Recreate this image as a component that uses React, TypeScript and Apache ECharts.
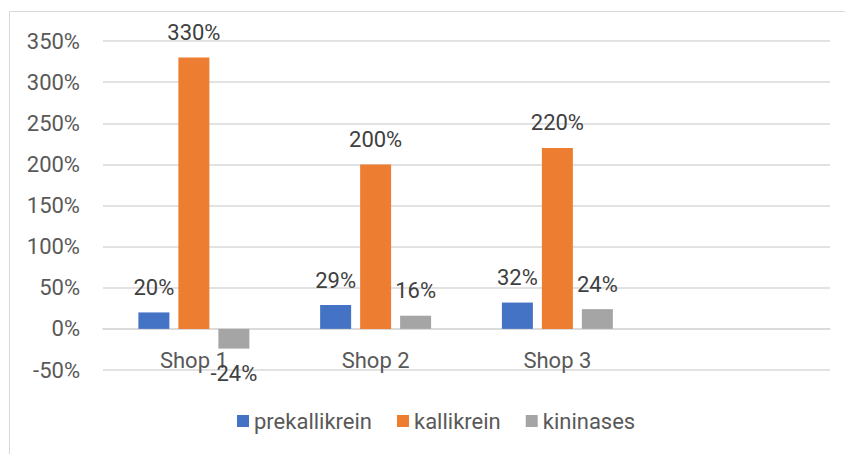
import React, { useEffect, useRef } from "react";
import * as echarts from "echarts";

const categories = ["Shop 1", "Shop 2", "Shop 3", ""];
const prekallikrein = [20, 29, 32, null];
const kallikrein = [330, 200, 220, null];
const kininases = [-24, 16, 24, null];
const seriesNames = ["prekallikrein", "kallikrein", "kininases"];
const colors = ["#4472C4", "#ED7D31", "#A5A5A5"];

const FONT = "Roboto";

function toData(arr: (number | null)[]) {
  return arr.map((v) =>
    v === null
      ? null
      : {
          value: v,
          label: { position: v < 0 ? "bottom" : "top" },
        }
  );
}

export default function App() {
  const ref = useRef<HTMLDivElement>(null);
  useEffect(() => {
    if (!ref.current) return;
    const chart = echarts.init(ref.current, null, { renderer: "svg" });
    const mk = (name: string, arr: (number | null)[], color: string) => ({
      name,
      type: "bar",
      data: toData(arr),
      barWidth: 31,
      barGap: "29%",
      itemStyle: { color },
      label: {
        show: true,
        formatter: "{c}%",
        distance: 14,
        fontFamily: FONT,
        fontSize: 22,
        color: "#404040",
      },
    });
    chart.setOption({
      animation: false,
      textStyle: { fontFamily: FONT },
      graphic: [
        {
          type: "rect",
          shape: { x: 9.5, y: 11.5, width: 900, height: 500 },
          style: { fill: "none", stroke: "#D9D9D9", lineWidth: 1 },
          silent: true,
        },
      ],
      grid: { left: 103, right: 15, top: 41, bottom: 84, containLabel: false },
      legend: {
        data: seriesNames,
        left: 232,
        top: 405,
        icon: "rect",
        itemWidth: 12,
        itemHeight: 12,
        itemGap: 25,
        textStyle: { fontFamily: FONT, fontSize: 22, color: "#595959" },
      },
      xAxis: {
        type: "category",
        data: categories,
        axisLine: { onZero: true, lineStyle: { color: "#D9D9D9", width: 1.5 } },
        axisTick: { show: false },
        axisLabel: {
          margin: -21,
          fontFamily: FONT,
          fontSize: 22,
          color: "#595959",
        },
      },
      yAxis: {
        type: "value",
        min: -50,
        max: 350,
        interval: 50,
        axisLine: { show: false },
        axisTick: { show: false },
        splitLine: { lineStyle: { color: "#D9D9D9", width: 1.5 } },
        axisLabel: {
          formatter: "{value}%",
          margin: 23,
          fontFamily: FONT,
          fontSize: 22,
          color: "#595959",
        },
      },
      series: [
        mk(seriesNames[0], prekallikrein, colors[0]),
        mk(seriesNames[1], kallikrein, colors[1]),
        mk(seriesNames[2], kininases, colors[2]),
      ],
    });
    return () => chart.dispose();
  }, []);
  return (
    <div
      ref={ref}
      style={{ position: "fixed", left: 0, top: 0, width: 845, height: 454, background: "#fff" }}
    />
  );
}
